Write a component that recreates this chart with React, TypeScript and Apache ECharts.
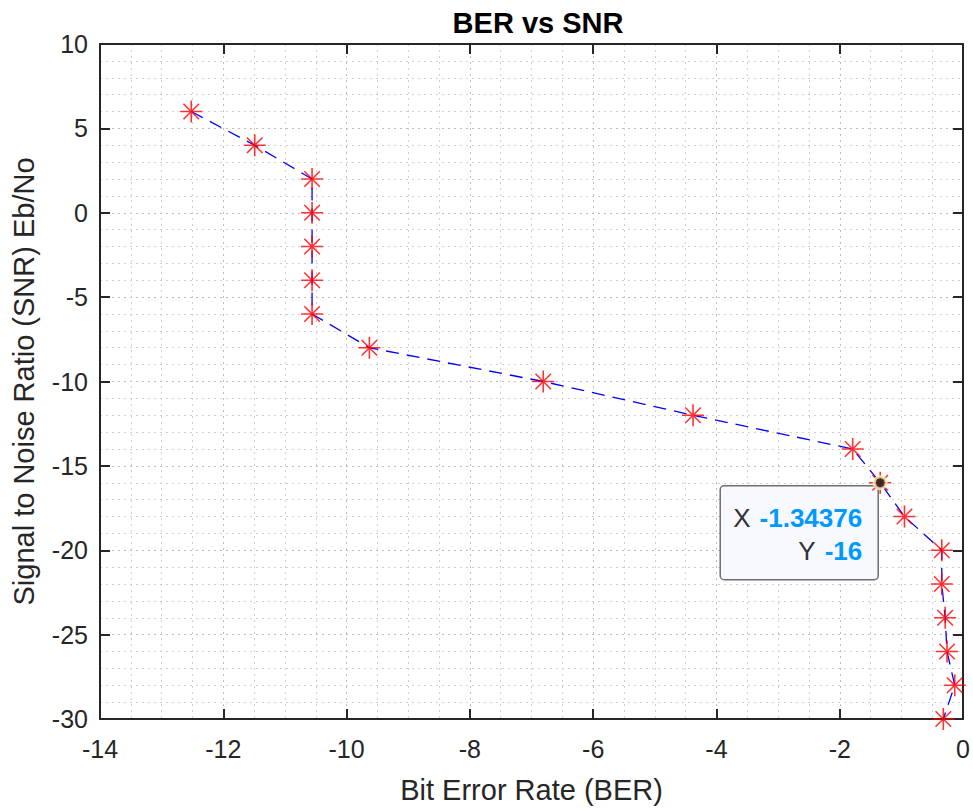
import React, { useEffect, useRef } from "react";
import * as echarts from "echarts";

const berValues = [-12.52, -11.49, -10.56, -10.56, -10.56, -10.56, -10.56, -9.63, -6.81, -4.38, -1.79, -1.34376, -0.95, -0.345, -0.345, -0.29, -0.26, -0.135, -0.32];
const snrValues = [6, 4, 2, 0, -2, -4, -6, -8, -10, -12, -14, -16, -18, -20, -22, -24, -26, -28, -30];
const tipPoint = [-1.34376, -16];
const xRange = { min: -14, max: 0, interval: 2 };
const yRange = { min: -30, max: 10, interval: 5 };

const FONT = "Liberation Sans, Arial, sans-serif";
const AXIS = "#262626";
const ASTERISK = "path://M0,-10L0,10M-10,0L10,0M-7.07,-7.07L7.07,7.07M-7.07,7.07L7.07,-7.07";

export default function App() {
  const ref = useRef<HTMLDivElement>(null);
  useEffect(() => {
    if (!ref.current) return;
    const chart = echarts.init(ref.current, undefined, { renderer: "svg" });
    const pts = berValues.map((x, i) => [x, snrValues[i]]);
    const grid = { left: 100, top: 44, width: 867, height: 683 };
    const dotted = { show: true, lineStyle: { color: "#bdbdbd", width: 1, type: [2, 4] as any } };
    const minorDotted = { show: true, lineStyle: { color: "#d0d0d0", width: 1, type: [2, 4] as any } };
    const hiddenAxisBits = {
      axisLabel: { show: false },
      splitLine: { show: false },
    };
    const axisLine = { show: true, onZero: false, lineStyle: { color: AXIS, width: 2 } };
    const axisTick = { show: true, inside: true, length: 10, lineStyle: { color: AXIS, width: 2 } };
    chart.setOption({
      animation: false,
      backgroundColor: "#ffffff",
      title: {
        text: "BER vs SNR",
        left: 533,
        textAlign: "center",
        top: 3,
        textStyle: { fontFamily: FONT, fontWeight: "bold", fontSize: 29, color: "#000" },
      },
      grid,
      xAxis: [
        {
          type: "value",
          ...xRange,
          name: "Bit Error Rate (BER)",
          nameLocation: "middle",
          nameGap: 56,
          nameTextStyle: { fontFamily: FONT, fontSize: 29, color: AXIS },
          axisLine,
          axisTick,
          axisLabel: { fontFamily: FONT, fontSize: 25, color: AXIS, margin: 17 },
          splitLine: dotted,
          minorTick: { show: false, splitNumber: 4 },
          minorSplitLine: minorDotted,
        },
        {
          type: "value",
          ...xRange,
          position: "top",
          axisLine,
          axisTick,
          ...hiddenAxisBits,
        },
      ],
      yAxis: [
        {
          type: "value",
          ...yRange,
          name: "Signal to Noise Ratio (SNR) Eb/No",
          nameLocation: "middle",
          nameGap: 62,
          nameTextStyle: { fontFamily: FONT, fontSize: 29, color: AXIS },
          axisLine,
          axisTick,
          axisLabel: { fontFamily: FONT, fontSize: 25, color: AXIS, margin: 12 },
          splitLine: dotted,
          minorTick: { show: false, splitNumber: 5 },
          minorSplitLine: minorDotted,
        },
        {
          type: "value",
          ...yRange,
          position: "right",
          axisLine,
          axisTick,
          ...hiddenAxisBits,
        },
      ],
      series: [
        {
          type: "line",
          data: pts,
          showSymbol: false,
          symbol: "none",
          lineStyle: { color: "#0000ff", width: 1.3, type: [13, 8] as any },
          z: 2,
        },
        {
          type: "scatter",
          data: pts,
          symbol: ASTERISK,
          symbolSize: 22,
          itemStyle: { color: "transparent", borderColor: "#ff0000", borderWidth: 1.6 },
          z: 3,
        },
        {
          type: "scatter",
          data: [tipPoint],
          symbol: "circle",
          symbolSize: 12,
          itemStyle: { color: "#1a1a1a", borderColor: "#fff3b0", borderWidth: 3 },
          z: 4,
        },
      ],
    });

    const [px, py] = chart.convertToPixel({ seriesIndex: 2 }, tipPoint) as number[];
    const rich = {
      k: { fontFamily: FONT, fontSize: 26, fill: "#333333", padding: [0, 9, 0, 0] },
      v: { fontFamily: FONT, fontSize: 26, fontWeight: "bold", fill: "#0099ff" },
    };
    chart.setOption({
      graphic: [
        {
          type: "group",
          x: px,
          y: py,
          z: 100,
          children: [
            {
              type: "rect",
              shape: { x: -160, y: 3, width: 158, height: 94, r: 4 },
              style: { fill: "#f8f8ff", stroke: "#6e6e6e", lineWidth: 1.5 },
            },
            {
              type: "text",
              x: -18,
              y: 35,
              style: { text: "{k|X}{v|" + tipPoint[0] + "}", align: "right", verticalAlign: "middle", rich },
            },
            {
              type: "text",
              x: -18,
              y: 68,
              style: { text: "{k|Y}{v|" + tipPoint[1] + "}", align: "right", verticalAlign: "middle", rich },
            },
          ],
        },
      ],
    });

    return () => chart.dispose();
  }, []);
  return <div ref={ref} style={{ position: "fixed", left: 0, top: 0, width: 973, height: 809 }} />;
}
